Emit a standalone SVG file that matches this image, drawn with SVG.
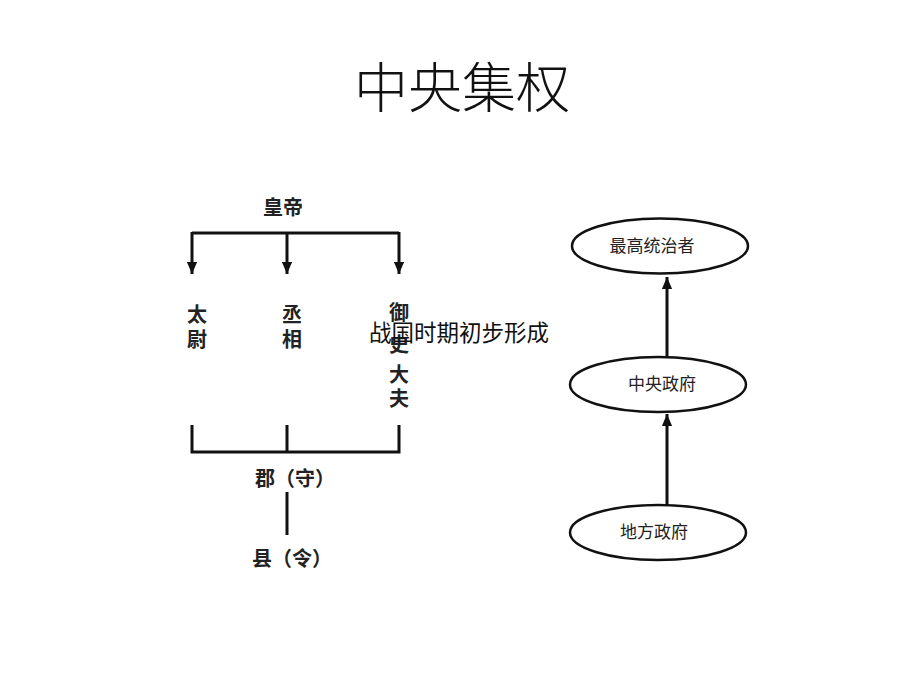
<svg xmlns="http://www.w3.org/2000/svg" width="920" height="690" viewBox="0 0 920 690">
<defs>
<style>
.t{font-family:"Noto Sans CJK SC","Liberation Sans",sans-serif;fill:#111;}
.lbl{font-size:20px;font-weight:bold;fill:#222;}
.el{font-size:17px;fill:#222;}
.ln{stroke:#111;stroke-width:3;fill:none;}
.ell{stroke:#111;stroke-width:2.5;fill:#fff;}
</style>
<marker id="ar" viewBox="0 0 10 10" refX="10" refY="5" markerWidth="4" markerHeight="3.4" orient="auto" markerUnits="strokeWidth" preserveAspectRatio="none">
<path d="M0,0 L10,5 L0,10 Z" fill="#111"/>
</marker>
</defs>
<rect width="920" height="690" fill="#fff"/>
<text class="t" x="462" y="108" font-size="54" text-anchor="middle" font-weight="300">中央集权</text>

<g id="connectors">
<path class="ln" d="M192,233 H399"/>
<path class="ln" d="M192,232 V274" marker-end="url(#ar)"/>
<path class="ln" d="M287,232 V274" marker-end="url(#ar)"/>
<path class="ln" d="M399,232 V274" marker-end="url(#ar)"/>
<path class="ln" d="M192,425 V452 H399 V425 M287,425 V452"/>
<path class="ln" d="M287,492 V535"/>
<path class="ln" d="M667,357 V277" marker-end="url(#ar)"/>
<path class="ln" d="M667,505 V414" marker-end="url(#ar)"/>
</g>

<g id="huangdi"><text class="t lbl" x="283" y="215" text-anchor="middle">皇帝</text></g>
<g id="taiwei"><text class="t lbl" x="197" y="322" text-anchor="middle">太</text><text class="t lbl" x="197" y="347" text-anchor="middle">尉</text></g>
<g id="chengxiang"><text class="t lbl" x="292" y="322" text-anchor="middle">丞</text><text class="t lbl" x="292" y="347" text-anchor="middle">相</text></g>
<g id="yushidafu">
<text class="t lbl" x="399" y="320" text-anchor="middle">御</text>
<text class="t lbl" x="399" y="352" text-anchor="middle">史</text>
<text class="t lbl" x="399" y="382" text-anchor="middle">大</text>
<text class="t lbl" x="399" y="406" text-anchor="middle">夫</text>
</g>
<g id="jun"><text class="t lbl" x="295" y="486" text-anchor="middle">郡（守）</text></g>
<g id="xian"><text class="t lbl" x="292" y="566" text-anchor="middle">县（令）</text></g>

<g id="zuigao"><ellipse class="ell" cx="660" cy="246" rx="88" ry="27.5"/><text class="t el" x="652" y="252" text-anchor="middle" font-size="18">最高统治者</text></g>
<g id="zhongyang"><ellipse class="ell" cx="658" cy="384.5" rx="88" ry="27.5"/><text class="t el" x="662" y="390" text-anchor="middle">中央政府</text></g>
<g id="difang"><ellipse class="ell" cx="658" cy="532.5" rx="88" ry="27.5"/><text class="t el" x="654" y="538" text-anchor="middle">地方政府</text></g>

<text class="t" x="459" y="341" font-size="22.5" text-anchor="middle" fill="#000">战国时期初步形成</text>
</svg>
